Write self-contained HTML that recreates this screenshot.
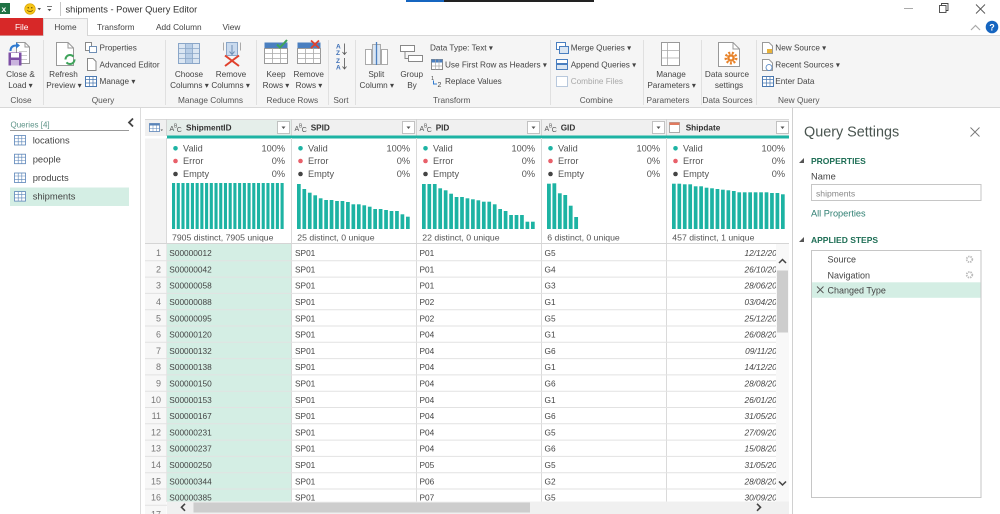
<!DOCTYPE html>
<html><head><meta charset="utf-8"><style>
html,body{margin:0;padding:0;width:1000px;height:514px;overflow:hidden;background:#fff}
svg{display:block}
</style></head><body>
<svg width="1000" height="514" viewBox="0 0 1000 514" xmlns="http://www.w3.org/2000/svg" font-family="'Liberation Sans', Arial, sans-serif">
<defs>
<clipPath id="dclip"><rect x="666" y="244" width="110" height="258"/></clipPath>
</defs>
<rect width="1000" height="514" fill="#fff"/>

<!-- ===== Title bar ===== -->
<rect x="0" y="3" width="10" height="11" fill="#1f7244"/>
<text x="1.5" y="12" font-size="8.5" font-weight="bold" fill="#fff">x</text>
<circle cx="30" cy="9" r="5.3" fill="#f5c518" stroke="#d9a300" stroke-width="0.6"/>
<circle cx="28.2" cy="7.8" r="0.7" fill="#5a3d00"/><circle cx="31.8" cy="7.8" r="0.7" fill="#5a3d00"/>
<path d="M27.3 10.2 Q30 13 32.7 10.2" stroke="#5a3d00" stroke-width="0.7" fill="none"/>
<path d="M37.5 8 L41 8 L39.25 10.2Z" fill="#555"/>
<line x1="47" y1="6.5" x2="52" y2="6.5" stroke="#555" stroke-width="0.8"/>
<path d="M47.5 9 L51.5 9 L49.5 11.3Z" fill="#555"/>
<line x1="60.5" y1="2" x2="60.5" y2="16" stroke="#c8c8c8"/>
<text x="65.5" y="12.3" font-size="9.3" fill="#333">shipments - Power Query Editor</text>
<rect x="406" y="0" width="38" height="2" fill="#1565c0"/>
<rect x="444" y="0" width="150" height="2" fill="#222"/>
<line x1="904" y1="8.5" x2="913" y2="8.5" stroke="#aaa"/>
<rect x="939.5" y="5.5" width="6.5" height="7" fill="none" stroke="#444" stroke-width="0.9"/>
<path d="M941.5 5.5 V3.5 H948 V10.5 H946" fill="none" stroke="#444" stroke-width="0.9"/>
<path d="M976 4.5 L985 13.5 M985 4.5 L976 13.5" stroke="#555" stroke-width="0.9"/>
<polyline points="971,30 975.5,25.5 980,30" fill="none" stroke="#aaa" stroke-width="1.2"/>
<circle cx="992" cy="27" r="6.3" fill="#1565c0"/>
<text x="992" y="30.5" font-size="9" font-weight="bold" fill="#fff" text-anchor="middle">?</text>

<!-- ===== Tabs ===== -->
<rect x="0" y="35.5" width="1000" height="72" fill="#f5f5f5"/>
<line x1="0" y1="35.5" x2="43.5" y2="35.5" stroke="#d8d8d8"/>
<line x1="87.5" y1="35.5" x2="1000" y2="35.5" stroke="#d8d8d8"/>
<line x1="0" y1="107.5" x2="1000" y2="107.5" stroke="#d8d8d8"/>
<rect x="0" y="18" width="43.5" height="17.5" fill="#d72828"/>
<text x="21.7" y="29.8" font-size="8.4" fill="#fff" text-anchor="middle">File</text>
<path d="M43.5 36 V18.5 H87.5 V36" fill="#f5f5f5" stroke="#d5d5d5"/>
<rect x="44" y="35" width="43" height="2" fill="#f5f5f5"/>
<g font-size="8.3" fill="#444">
<text x="65.5" y="29.8" text-anchor="middle">Home</text>
<text x="97" y="29.8">Transform</text>
<text x="156" y="29.8">Add Column</text>
<text x="222.5" y="29.8">View</text>
</g>

<!-- ===== Ribbon separators ===== -->
<g stroke="#e0e0e0">
<line x1="43.5" y1="40" x2="43.5" y2="105"/>
<line x1="165.5" y1="40" x2="165.5" y2="105"/>
<line x1="256.5" y1="40" x2="256.5" y2="105"/>
<line x1="328.5" y1="40" x2="328.5" y2="105"/>
<line x1="355.5" y1="40" x2="355.5" y2="105"/>
<line x1="550.5" y1="40" x2="550.5" y2="105"/>
<line x1="643.5" y1="40" x2="643.5" y2="105"/>
<line x1="701.5" y1="40" x2="701.5" y2="105"/>
<line x1="756.5" y1="40" x2="756.5" y2="105"/>
</g>

<!-- ===== Ribbon icons ===== -->
<!-- Close & Load -->
<path d="M16.5 42.5 H25 L29.5 47 V63.5 H16.5Z" fill="#fff" stroke="#999"/>
<path d="M25 42.5 V47 H29.5" fill="none" stroke="#999"/>
<path d="M19 51.5 H27 M19 55.5 H27 M19 59.5 H27" stroke="#ccc"/>
<path d="M10.5 51 Q10.5 45.5 16.5 45.5" fill="none" stroke="#2f7ad0" stroke-width="2"/>
<path d="M16 42.3 L20 45.5 L16 48.7Z" fill="#2f7ad0"/>
<rect x="8.5" y="52.5" width="13" height="13" fill="#7d4fa5"/>
<rect x="11" y="53" width="8" height="4.5" fill="#fff"/>
<rect x="11" y="60" width="8" height="5.5" fill="#c9b3dd"/>
<!-- Refresh -->
<path d="M56.5 42.5 H68 L73.5 48 V65.5 H56.5Z" fill="#fff" stroke="#999"/>
<path d="M68 42.5 V48 H73.5" fill="none" stroke="#999"/>
<circle cx="70" cy="59.5" r="4.5" fill="none" stroke="#3ea35a" stroke-width="2" stroke-dasharray="11 3"/>
<!-- Properties / Advanced / Manage -->
<rect x="85.5" y="42.5" width="6" height="8" fill="#fff" stroke="#888"/>
<rect x="89.5" y="46.5" width="7" height="6" fill="#fff" stroke="#6f8fb5"/>
<path d="M87.5 58.5 H93 L96 61.5 V70.5 H87.5Z" fill="#fff" stroke="#888"/>
<rect x="85.5" y="76.5" width="11" height="10" fill="#fff" stroke="#4a78b0"/>
<path d="M85.5 79.5 H96.5 M85.5 83 H96.5 M89.5 76.5 V86.5 M93 76.5 V86.5" stroke="#4a78b0" stroke-width="0.7"/>
<!-- Choose Columns -->
<rect x="178.5" y="43.5" width="21" height="20" fill="#dbe6f2" stroke="#8aa6c8"/>
<rect x="185.5" y="44" width="7" height="19" fill="#b7cde6"/>
<path d="M178.5 48.5 H199.5 M178.5 53.5 H199.5 M178.5 58.5 H199.5 M185.5 43.5 V63.5 M192.5 43.5 V63.5" stroke="#8aa6c8" stroke-width="0.8"/>
<!-- Remove Columns -->
<rect x="226.5" y="42.5" width="11" height="13" fill="#c9daee" stroke="#8aa6c8"/>
<path d="M223.5 42.5 V50.5 M240.5 42.5 V50.5" stroke="#aaa"/>
<path d="M232 45 V54 M229.5 51.5 L232 54.5 L234.5 51.5" stroke="#6f8fb5" fill="none"/>
<path d="M225 55.5 L239 66 M239 55.5 L225 66" stroke="#e0412d" stroke-width="2"/>
<!-- Keep Rows -->
<rect x="264.5" y="42.5" width="23" height="6" fill="#4a7fc0"/>
<rect x="264.5" y="48.5" width="23" height="15" fill="#fff" stroke="#999"/>
<path d="M264.5 53.5 H287.5 M264.5 58.5 H287.5 M272.5 48.5 V63.5 M280.5 48.5 V63.5" stroke="#aaa" stroke-width="0.8"/>
<path d="M277 44.5 L280 47.5 L287 40" stroke="#3ea35a" stroke-width="2" fill="none"/>
<!-- Remove Rows -->
<rect x="297.5" y="42.5" width="23" height="6" fill="#4a7fc0"/>
<rect x="297.5" y="48.5" width="23" height="15" fill="#fff" stroke="#999"/>
<path d="M297.5 53.5 H320.5 M297.5 58.5 H320.5 M305.5 48.5 V63.5 M313.5 48.5 V63.5" stroke="#aaa" stroke-width="0.8"/>
<path d="M311 40.5 L319 48 M319 40.5 L311 48" stroke="#e0412d" stroke-width="1.8"/>
<!-- Sort -->
<g font-size="6.5" fill="#3b6db5" font-weight="bold">
<text x="336" y="48.5">A</text><text x="336" y="55">Z</text>
<text x="336" y="63">Z</text><text x="336" y="69.5">A</text>
</g>
<path d="M344.5 43.5 V54 M342.5 52 L344.5 54.5 L346.5 52 M344.5 58 V68.5 M342.5 66.5 L344.5 69 L346.5 66.5" stroke="#555" fill="none" stroke-width="0.8"/>
<!-- Split Column -->
<rect x="365.5" y="49.5" width="6" height="15" fill="#fff" stroke="#aaa"/>
<rect x="381.5" y="49.5" width="6" height="15" fill="#fff" stroke="#aaa"/>
<rect x="372.5" y="44.5" width="8" height="20" fill="#dbe6f2" stroke="#aaa"/>
<line x1="376.5" y1="42" x2="376.5" y2="65" stroke="#4a7fc0" stroke-width="1.3"/>
<!-- Group By -->
<rect x="400.5" y="45.5" width="14" height="6" fill="#fff" stroke="#888"/>
<rect x="408.5" y="55.5" width="14" height="6" fill="#fff" stroke="#888"/>
<path d="M405 51.5 V58.5 H408.5" stroke="#888" fill="none"/>
<!-- Use First Row / Replace -->
<rect x="431.5" y="59.5" width="11" height="10" fill="#fff" stroke="#888"/>
<rect x="431.5" y="59.5" width="11" height="3" fill="#4a7fc0"/>
<path d="M431.5 66 H442.5 M435.5 59.5 V69.5 M439 59.5 V69.5" stroke="#aaa" stroke-width="0.7"/>
<text x="431" y="80" font-size="5.5" fill="#444">1</text>
<path d="M433.5 80.5 V84 H437" stroke="#2f7ad0" fill="none"/>
<text x="437.5" y="87" font-size="7" fill="#444">2</text>
<!-- Merge/Append/Combine -->
<rect x="556.5" y="42.5" width="9" height="7" fill="#fff" stroke="#4a7fc0"/>
<rect x="559.5" y="46.5" width="9" height="7" fill="#dbe6f2" stroke="#4a7fc0"/>
<rect x="556.5" y="59.5" width="11" height="4" fill="#fff" stroke="#4a7fc0"/>
<rect x="556.5" y="64.5" width="11" height="5" fill="#dbe6f2" stroke="#4a7fc0"/>
<rect x="556.5" y="76.5" width="11" height="10" fill="#fff" stroke="#b8c8dc"/>
<!-- Manage Parameters -->
<rect x="661.5" y="42.5" width="18" height="23" fill="#fff" stroke="#999"/>
<path d="M661.5 50.5 H679.5 M661.5 58 H679.5 M667.5 42.5 V65.5" stroke="#aaa" stroke-width="0.8"/>
<!-- Data source settings -->
<path d="M718.5 42.5 H733 L739.5 49 V66.5 H718.5Z" fill="#fff" stroke="#999"/>
<path d="M733 42.5 V49 H739.5" fill="none" stroke="#999"/>
<circle cx="731" cy="58" r="5.2" fill="none" stroke="#e8832a" stroke-width="2.6" stroke-dasharray="2 1.6"/>
<circle cx="731" cy="58" r="3.8" fill="#e8832a"/>
<circle cx="731" cy="58" r="1.4" fill="#fff"/>
<!-- New query icons -->
<path d="M762.5 42.5 H769 L772.5 46 V53.5 H762.5Z" fill="#fff" stroke="#999"/>
<rect x="767" y="49" width="5" height="4" fill="#e8b23a"/>
<path d="M762.5 59.5 H769 L772.5 63 V70.5 H762.5Z" fill="#fff" stroke="#999"/>
<circle cx="769" cy="67.5" r="3" fill="#fff" stroke="#4a7fc0" stroke-width="0.8"/>
<rect x="762.5" y="76.5" width="11" height="10" fill="#fff" stroke="#4a78b0"/>
<path d="M762.5 79.5 H773.5 M762.5 83 H773.5 M766.5 76.5 V86.5 M770 76.5 V86.5" stroke="#4a78b0" stroke-width="0.7"/>

<!-- ===== Ribbon text ===== -->
<g font-size="8.2" fill="#444">
<text x="20.5" y="77" text-anchor="middle">Close &amp;</text>
<text x="20.5" y="88" text-anchor="middle">Load ▾</text>
<text x="63.5" y="77" text-anchor="middle">Refresh</text>
<text x="64" y="88" text-anchor="middle">Preview ▾</text>
<text x="99.5" y="50.5">Properties</text>
<text x="99.5" y="67.3">Advanced Editor</text>
<text x="99.5" y="84.2">Manage ▾</text>
<text x="189" y="77" text-anchor="middle">Choose</text>
<text x="189.5" y="88" text-anchor="middle">Columns ▾</text>
<text x="231" y="77" text-anchor="middle">Remove</text>
<text x="230.7" y="88" text-anchor="middle">Columns ▾</text>
<text x="276" y="77" text-anchor="middle">Keep</text>
<text x="276" y="88" text-anchor="middle">Rows ▾</text>
<text x="308.7" y="77" text-anchor="middle">Remove</text>
<text x="309" y="88" text-anchor="middle">Rows ▾</text>
<text x="376.3" y="77" text-anchor="middle">Split</text>
<text x="376.8" y="88" text-anchor="middle">Column ▾</text>
<text x="411.7" y="77" text-anchor="middle">Group</text>
<text x="412" y="88" text-anchor="middle">By</text>
<text x="430" y="50.5">Data Type: Text ▾</text>
<text x="445" y="67.3">Use First Row as Headers ▾</text>
<text x="445" y="84.2">Replace Values</text>
<text x="570.7" y="50.5">Merge Queries ▾</text>
<text x="570.7" y="67.3">Append Queries ▾</text>
<text x="570.7" y="84.2" fill="#a8a8a8">Combine Files</text>
<text x="671" y="77" text-anchor="middle">Manage</text>
<text x="671.7" y="88" text-anchor="middle">Parameters ▾</text>
<text x="727" y="77" text-anchor="middle">Data source</text>
<text x="729" y="88" text-anchor="middle">settings</text>
<text x="775.3" y="50.5">New Source ▾</text>
<text x="775.3" y="67.3">Recent Sources ▾</text>
<text x="775.3" y="84.2">Enter Data</text>
</g>
<g font-size="8.3" fill="#555" text-anchor="middle">
<text x="21" y="103">Close</text>
<text x="103" y="103">Query</text>
<text x="210.5" y="103">Manage Columns</text>
<text x="292.3" y="103">Reduce Rows</text>
<text x="341" y="103">Sort</text>
<text x="451.7" y="103">Transform</text>
<text x="596.3" y="103">Combine</text>
<text x="668" y="103">Parameters</text>
<text x="727.5" y="103">Data Sources</text>
<text x="798.8" y="103">New Query</text>
</g>

<!-- ===== Left pane ===== -->
<line x1="140.5" y1="108" x2="140.5" y2="514" stroke="#dcdcdc"/>
<text x="10.5" y="127.3" font-size="8" fill="#5e9488">Queries [4]</text>
<line x1="10" y1="130.5" x2="129" y2="130.5" stroke="#999"/>
<polyline points="133,118.5 129,122.5 133,126.5" fill="none" stroke="#444" stroke-width="1.8"/>
<rect x="10" y="187.5" width="119" height="18.5" fill="#d4eee4"/>
<g fill="#fff" stroke="#5a84b8" stroke-width="0.8">
<rect x="14.5" y="135.5" width="11" height="9.5"/>
<rect x="14.5" y="154.2" width="11" height="9.5"/>
<rect x="14.5" y="173" width="11" height="9.5"/>
<rect x="14.5" y="191.6" width="11" height="9.5"/>
</g>
<g stroke="#5a84b8" stroke-width="0.6">
<path d="M14.5 138.5 H25.5 M14.5 141.8 H25.5 M18.2 135.5 V145 M21.8 135.5 V145"/>
<path d="M14.5 157.2 H25.5 M14.5 160.5 H25.5 M18.2 154.2 V163.7 M21.8 154.2 V163.7"/>
<path d="M14.5 176 H25.5 M14.5 179.3 H25.5 M18.2 173 V182.5 M21.8 173 V182.5"/>
<path d="M14.5 194.6 H25.5 M14.5 197.9 H25.5 M18.2 191.6 V201.1 M21.8 191.6 V201.1"/>
</g>
<g font-size="9.4" fill="#444">
<text x="32.7" y="143.6">locations</text>
<text x="32.7" y="162.3">people</text>
<text x="32.7" y="181">products</text>
<text x="32.7" y="199.6">shipments</text>
</g>

<!-- ===== Grid header ===== -->
<rect x="145" y="119" width="644" height="17" fill="#f0f0f0"/>
<rect x="167" y="119" width="124" height="17" fill="#e5eeea"/>
<line x1="145" y1="119.5" x2="789" y2="119.5" stroke="#d9d9d9"/>
<g stroke="#d3d3d3">
<line x1="166.5" y1="119" x2="166.5" y2="136"/>
<line x1="291.5" y1="119" x2="291.5" y2="136"/>
<line x1="416.5" y1="119" x2="416.5" y2="136"/>
<line x1="541.5" y1="119" x2="541.5" y2="136"/>
<line x1="666.5" y1="119" x2="666.5" y2="136"/>
</g>
<rect x="167" y="135.5" width="622" height="3" fill="#1db3a3"/>
<!-- corner icon -->
<rect x="149.5" y="123.5" width="10" height="8" fill="#fff" stroke="#5a84b8" stroke-width="0.8"/>
<rect x="149.5" y="123.5" width="10" height="2" fill="#5a84b8"/>
<path d="M149.5 128.5 H159.5 M153 123.5 V131.5 M156.3 123.5 V131.5" stroke="#5a84b8" stroke-width="0.5"/>
<path d="M160.5 129.5 L163 129.5 L161.75 131Z" fill="#555"/>
<!-- ABC icons -->
<g fill="#555">
<text x="169.5" y="131" font-size="7">A</text><text x="174" y="127.5" font-size="5">B</text><text x="176.8" y="132" font-size="7">C</text>
<text x="294.5" y="131" font-size="7">A</text><text x="299" y="127.5" font-size="5">B</text><text x="301.8" y="132" font-size="7">C</text>
<text x="419.5" y="131" font-size="7">A</text><text x="424" y="127.5" font-size="5">B</text><text x="426.8" y="132" font-size="7">C</text>
<text x="544.5" y="131" font-size="7">A</text><text x="549" y="127.5" font-size="5">B</text><text x="551.8" y="132" font-size="7">C</text>
</g>
<rect x="669.5" y="122.5" width="10" height="10" fill="#fff" stroke="#999" stroke-width="0.8"/>
<rect x="669.5" y="122.5" width="10" height="2.5" fill="#e07a5f"/>
<g font-size="8.2" font-weight="bold" fill="#333">
<text x="186" y="130.7">ShipmentID</text>
<text x="310.7" y="130.7">SPID</text>
<text x="435.7" y="130.7">PID</text>
<text x="560.7" y="130.7">GID</text>
<text x="685.7" y="130.7">Shipdate</text>
</g>
<g fill="#fff" stroke="#b5b5b5" stroke-width="0.8">
<rect x="277.5" y="121.5" width="12" height="12"/>
<rect x="402.5" y="121.5" width="12" height="12"/>
<rect x="527.5" y="121.5" width="12" height="12"/>
<rect x="652.5" y="121.5" width="12" height="12"/>
<rect x="776.5" y="121.5" width="12" height="12"/>
</g>
<g fill="#555">
<path d="M281.5 126.5 H285.5 L283.5 129Z"/>
<path d="M406.5 126.5 H410.5 L408.5 129Z"/>
<path d="M531.5 126.5 H535.5 L533.5 129Z"/>
<path d="M656.5 126.5 H660.5 L658.5 129Z"/>
<path d="M780.5 126.5 H784.5 L782.5 129Z"/>
</g>

<!-- ===== Profile area ===== -->
<rect x="145" y="138.5" width="22" height="105.5" fill="#f3f3f3"/>
<g stroke="#dadada">
<line x1="166.5" y1="138" x2="166.5" y2="502"/>
<line x1="291.5" y1="138" x2="291.5" y2="502"/>
<line x1="416.5" y1="138" x2="416.5" y2="502"/>
<line x1="541.5" y1="138" x2="541.5" y2="502"/>
<line x1="666.5" y1="138" x2="666.5" y2="502"/>
</g>
<line x1="145" y1="243.5" x2="789" y2="243.5" stroke="#d5d5d5"/>
<g font-size="9.2" fill="#555">
<text x="183" y="151.5">Valid</text><text x="183" y="164.2">Error</text><text x="183" y="177.2">Empty</text>
<text x="308" y="151.5">Valid</text><text x="308" y="164.2">Error</text><text x="308" y="177.2">Empty</text>
<text x="433" y="151.5">Valid</text><text x="433" y="164.2">Error</text><text x="433" y="177.2">Empty</text>
<text x="558" y="151.5">Valid</text><text x="558" y="164.2">Error</text><text x="558" y="177.2">Empty</text>
<text x="683" y="151.5">Valid</text><text x="683" y="164.2">Error</text><text x="683" y="177.2">Empty</text>
</g>
<g font-size="9.2" fill="#555" text-anchor="end">
<text x="285" y="151.5">100%</text><text x="285" y="164.2">0%</text><text x="285" y="177.2">0%</text>
<text x="410" y="151.5">100%</text><text x="410" y="164.2">0%</text><text x="410" y="177.2">0%</text>
<text x="535" y="151.5">100%</text><text x="535" y="164.2">0%</text><text x="535" y="177.2">0%</text>
<text x="660" y="151.5">100%</text><text x="660" y="164.2">0%</text><text x="660" y="177.2">0%</text>
<text x="785" y="151.5">100%</text><text x="785" y="164.2">0%</text><text x="785" y="177.2">0%</text>
</g>
<g>
<circle cx="175.5" cy="148.3" r="2.3" fill="#1db3a3"/><circle cx="175.5" cy="161" r="2.3" fill="#e8606a"/><circle cx="175.5" cy="174" r="2.3" fill="#444"/>
<circle cx="300.5" cy="148.3" r="2.3" fill="#1db3a3"/><circle cx="300.5" cy="161" r="2.3" fill="#e8606a"/><circle cx="300.5" cy="174" r="2.3" fill="#444"/>
<circle cx="425.5" cy="148.3" r="2.3" fill="#1db3a3"/><circle cx="425.5" cy="161" r="2.3" fill="#e8606a"/><circle cx="425.5" cy="174" r="2.3" fill="#444"/>
<circle cx="550.5" cy="148.3" r="2.3" fill="#1db3a3"/><circle cx="550.5" cy="161" r="2.3" fill="#e8606a"/><circle cx="550.5" cy="174" r="2.3" fill="#444"/>
<circle cx="675.5" cy="148.3" r="2.3" fill="#1db3a3"/><circle cx="675.5" cy="161" r="2.3" fill="#e8606a"/><circle cx="675.5" cy="174" r="2.3" fill="#444"/>
</g>
<!-- bars -->
<g fill="#1db3a3">
<rect x="172" y="183" width="3.1" height="46"/><rect x="176.72" y="183" width="3.1" height="46"/><rect x="181.44" y="183" width="3.1" height="46"/><rect x="186.16" y="183" width="3.1" height="46"/><rect x="190.88" y="183" width="3.1" height="46"/><rect x="195.6" y="183" width="3.1" height="46"/><rect x="200.32" y="183" width="3.1" height="46"/><rect x="205.04" y="183" width="3.1" height="46"/><rect x="209.76" y="183" width="3.1" height="46"/><rect x="214.48" y="183" width="3.1" height="46"/><rect x="219.2" y="183" width="3.1" height="46"/><rect x="223.92" y="183" width="3.1" height="46"/><rect x="228.64" y="183" width="3.1" height="46"/><rect x="233.36" y="183" width="3.1" height="46"/><rect x="238.08" y="183" width="3.1" height="46"/><rect x="242.8" y="183" width="3.1" height="46"/><rect x="247.52" y="183" width="3.1" height="46"/><rect x="252.24" y="183" width="3.1" height="46"/><rect x="256.96" y="183" width="3.1" height="46"/><rect x="261.68" y="183" width="3.1" height="46"/><rect x="266.4" y="183" width="3.1" height="46"/><rect x="271.12" y="183" width="3.1" height="46"/><rect x="275.84" y="183" width="3.1" height="46"/><rect x="280.56" y="183" width="3.1" height="46"/>

<rect x="297" y="184" width="3.7" height="45"/><rect x="302.45" y="189" width="3.7" height="40"/><rect x="307.9" y="192.7" width="3.7" height="36.3"/><rect x="313.35" y="195.3" width="3.7" height="33.7"/><rect x="318.8" y="198.3" width="3.7" height="30.7"/><rect x="324.25" y="200" width="3.7" height="29"/><rect x="329.7" y="200" width="3.7" height="29"/><rect x="335.15" y="201" width="3.7" height="28"/><rect x="340.6" y="201" width="3.7" height="28"/><rect x="346.05" y="202" width="3.7" height="27"/><rect x="351.5" y="204.3" width="3.7" height="24.7"/><rect x="356.95" y="204.3" width="3.7" height="24.7"/><rect x="362.4" y="205.3" width="3.7" height="23.7"/><rect x="367.85" y="206.7" width="3.7" height="22.3"/><rect x="373.3" y="209" width="3.7" height="20"/><rect x="378.75" y="209" width="3.7" height="20"/><rect x="384.2" y="210" width="3.7" height="19"/><rect x="389.65" y="211" width="3.7" height="18"/><rect x="395.1" y="211" width="3.7" height="18"/><rect x="400.55" y="214.3" width="3.7" height="14.7"/><rect x="406" y="216.7" width="3.7" height="12.3"/>

<rect x="422" y="184" width="3.7" height="45"/><rect x="427.45" y="184" width="3.7" height="45"/><rect x="432.9" y="184" width="3.7" height="45"/><rect x="438.35" y="188.3" width="3.7" height="40.7"/><rect x="443.8" y="190.3" width="3.7" height="38.7"/><rect x="449.25" y="193.7" width="3.7" height="35.3"/><rect x="454.7" y="197" width="3.7" height="32"/><rect x="460.15" y="197" width="3.7" height="32"/><rect x="465.6" y="198.3" width="3.7" height="30.7"/><rect x="471.05" y="199.3" width="3.7" height="29.7"/><rect x="476.5" y="200.3" width="3.7" height="28.7"/><rect x="481.95" y="201.7" width="3.7" height="27.3"/><rect x="487.4" y="201.7" width="3.7" height="27.3"/><rect x="492.85" y="204.3" width="3.7" height="24.7"/><rect x="498.3" y="209" width="3.7" height="20"/><rect x="503.75" y="211" width="3.7" height="18"/><rect x="509.2" y="215" width="3.7" height="14"/><rect x="514.65" y="215" width="3.7" height="14"/><rect x="520.1" y="215" width="3.7" height="14"/><rect x="525.55" y="221.7" width="3.7" height="7.3"/><rect x="531" y="221.7" width="3.7" height="7.3"/>

<rect x="547" y="183.7" width="3.8" height="45.3"/><rect x="552.45" y="183.3" width="3.8" height="45.7"/><rect x="557.9" y="193.3" width="3.8" height="35.7"/><rect x="563.35" y="195" width="3.8" height="34"/><rect x="568.8" y="205.7" width="3.8" height="23.3"/><rect x="574.25" y="217" width="3.8" height="12"/>

<rect x="672" y="183.7" width="3.7" height="45.3"/><rect x="677.45" y="183.7" width="3.7" height="45.3"/><rect x="682.9" y="184.3" width="3.7" height="44.7"/><rect x="688.35" y="184.3" width="3.7" height="44.7"/><rect x="693.8" y="186.3" width="3.7" height="42.7"/><rect x="699.25" y="186.3" width="3.7" height="42.7"/><rect x="704.7" y="187.7" width="3.7" height="41.3"/><rect x="710.15" y="188.3" width="3.7" height="40.7"/><rect x="715.6" y="189" width="3.7" height="40"/><rect x="721.05" y="189.7" width="3.7" height="39.3"/><rect x="726.5" y="190.3" width="3.7" height="38.7"/><rect x="731.95" y="191" width="3.7" height="38"/><rect x="737.4" y="192.3" width="3.7" height="36.7"/><rect x="742.85" y="192.3" width="3.7" height="36.7"/><rect x="748.3" y="192.3" width="3.7" height="36.7"/><rect x="753.75" y="192.3" width="3.7" height="36.7"/><rect x="759.2" y="192.3" width="3.7" height="36.7"/><rect x="764.65" y="192.3" width="3.7" height="36.7"/><rect x="770.1" y="193" width="3.7" height="36"/><rect x="775.55" y="193" width="3.7" height="36"/><rect x="781" y="194.3" width="3.7" height="34.7"/>
</g>
<g font-size="8.7" fill="#555">
<text x="172" y="240.3">7905 distinct, 7905 unique</text>
<text x="297.3" y="240.3">25 distinct, 0 unique</text>
<text x="422.3" y="240.3">22 distinct, 0 unique</text>
<text x="547.3" y="240.3">6 distinct, 0 unique</text>
<text x="672.3" y="240.3">457 distinct, 1 unique</text>
</g>

<!-- ===== Data rows ===== -->
<rect x="145" y="244" width="21.5" height="270" fill="#f7f7f7"/>
<rect x="167" y="244" width="124" height="258" fill="#d4eee4"/>
<g stroke="#e2e2e2">
<line x1="145" y1="260.8" x2="776" y2="260.8"/><line x1="145" y1="277.1" x2="776" y2="277.1"/><line x1="145" y1="293.4" x2="776" y2="293.4"/><line x1="145" y1="309.7" x2="776" y2="309.7"/><line x1="145" y1="326" x2="776" y2="326"/><line x1="145" y1="342.3" x2="776" y2="342.3"/><line x1="145" y1="358.6" x2="776" y2="358.6"/><line x1="145" y1="374.9" x2="776" y2="374.9"/><line x1="145" y1="391.2" x2="776" y2="391.2"/><line x1="145" y1="407.5" x2="776" y2="407.5"/><line x1="145" y1="423.8" x2="776" y2="423.8"/><line x1="145" y1="440.1" x2="776" y2="440.1"/><line x1="145" y1="456.4" x2="776" y2="456.4"/><line x1="145" y1="472.7" x2="776" y2="472.7"/><line x1="145" y1="489" x2="776" y2="489"/><line x1="145" y1="505.3" x2="776" y2="505.3"/>
</g>
<g font-size="9" fill="#777" text-anchor="end">
<text x="161" y="256.1">1</text><text x="161" y="272.4">2</text><text x="161" y="288.7">3</text><text x="161" y="305">4</text><text x="161" y="321.3">5</text><text x="161" y="337.6">6</text><text x="161" y="353.9">7</text><text x="161" y="370.2">8</text><text x="161" y="386.5">9</text><text x="161" y="402.8">10</text><text x="161" y="419.1">11</text><text x="161" y="435.4">12</text><text x="161" y="451.7">13</text><text x="161" y="468">14</text><text x="161" y="484.3">15</text><text x="161" y="500.6">16</text><text x="161" y="517.5">17</text>
</g>
<g font-size="8.3" fill="#444">
<text x="169.3" y="256.1">S00000012</text><text x="169.3" y="272.4">S00000042</text><text x="169.3" y="288.7">S00000058</text><text x="169.3" y="305">S00000088</text><text x="169.3" y="321.3">S00000095</text><text x="169.3" y="337.6">S00000120</text><text x="169.3" y="353.9">S00000132</text><text x="169.3" y="370.2">S00000138</text><text x="169.3" y="386.5">S00000150</text><text x="169.3" y="402.8">S00000153</text><text x="169.3" y="419.1">S00000167</text><text x="169.3" y="435.4">S00000231</text><text x="169.3" y="451.7">S00000237</text><text x="169.3" y="468">S00000250</text><text x="169.3" y="484.3">S00000344</text><text x="169.3" y="500.6">S00000385</text>

<text x="295" y="256.1">SP01</text><text x="295" y="272.4">SP01</text><text x="295" y="288.7">SP01</text><text x="295" y="305">SP01</text><text x="295" y="321.3">SP01</text><text x="295" y="337.6">SP01</text><text x="295" y="353.9">SP01</text><text x="295" y="370.2">SP01</text><text x="295" y="386.5">SP01</text><text x="295" y="402.8">SP01</text><text x="295" y="419.1">SP01</text><text x="295" y="435.4">SP01</text><text x="295" y="451.7">SP01</text><text x="295" y="468">SP01</text><text x="295" y="484.3">SP01</text><text x="295" y="500.6">SP01</text>

<text x="419.5" y="256.1">P01</text><text x="419.5" y="272.4">P01</text><text x="419.5" y="288.7">P01</text><text x="419.5" y="305">P02</text><text x="419.5" y="321.3">P02</text><text x="419.5" y="337.6">P04</text><text x="419.5" y="353.9">P04</text><text x="419.5" y="370.2">P04</text><text x="419.5" y="386.5">P04</text><text x="419.5" y="402.8">P04</text><text x="419.5" y="419.1">P04</text><text x="419.5" y="435.4">P04</text><text x="419.5" y="451.7">P04</text><text x="419.5" y="468">P05</text><text x="419.5" y="484.3">P06</text><text x="419.5" y="500.6">P07</text>

<text x="544.5" y="256.1">G5</text><text x="544.5" y="272.4">G4</text><text x="544.5" y="288.7">G3</text><text x="544.5" y="305">G1</text><text x="544.5" y="321.3">G5</text><text x="544.5" y="337.6">G1</text><text x="544.5" y="353.9">G6</text><text x="544.5" y="370.2">G1</text><text x="544.5" y="386.5">G6</text><text x="544.5" y="402.8">G1</text><text x="544.5" y="419.1">G6</text><text x="544.5" y="435.4">G5</text><text x="544.5" y="451.7">G6</text><text x="544.5" y="468">G5</text><text x="544.5" y="484.3">G2</text><text x="544.5" y="500.6">G5</text>
</g>
<g clip-path="url(#dclip)" font-size="8.3" fill="#444" font-style="italic" text-anchor="end">
<text x="786" y="256.1">12/12/2020</text><text x="786" y="272.4">26/10/2020</text><text x="786" y="288.7">28/06/2020</text><text x="786" y="305">03/04/2020</text><text x="786" y="321.3">25/12/2020</text><text x="786" y="337.6">26/08/2020</text><text x="786" y="353.9">09/11/2020</text><text x="786" y="370.2">14/12/2020</text><text x="786" y="386.5">28/08/2020</text><text x="786" y="402.8">26/01/2020</text><text x="786" y="419.1">31/05/2020</text><text x="786" y="435.4">27/09/2020</text><text x="786" y="451.7">15/08/2020</text><text x="786" y="468">31/05/2020</text><text x="786" y="484.3">28/08/2020</text><text x="786" y="500.6">30/09/2020</text>
</g>

<!-- ===== Scrollbars ===== -->
<rect x="776" y="244" width="13" height="257.5" fill="#f8f8f8"/>
<rect x="777" y="270.5" width="11" height="62" fill="#cdcdcd"/>
<polyline points="779,263 782.5,259.5 786,263" fill="none" stroke="#444" stroke-width="1.5"/>
<polyline points="779,481.5 782.5,485 786,481.5" fill="none" stroke="#444" stroke-width="1.5"/>
<rect x="167" y="501.5" width="622" height="12.5" fill="#f0f0f0"/>
<rect x="193.5" y="502.5" width="336.5" height="10" fill="#cdcdcd"/>
<polyline points="185,503.8 181.5,507.3 185,510.8" fill="none" stroke="#444" stroke-width="1.6"/>
<polyline points="757,503.8 760.5,507.3 757,510.8" fill="none" stroke="#444" stroke-width="1.6"/>

<!-- ===== Right pane ===== -->
<line x1="792.5" y1="108" x2="792.5" y2="514" stroke="#d0d0d0"/>
<text x="804" y="136.3" font-size="14.4" fill="#4a5550">Query Settings</text>
<path d="M970.5 127.5 L979.5 136.5 M979.5 127.5 L970.5 136.5" stroke="#777" stroke-width="0.9"/>
<path d="M804 158 V163 H799Z" fill="#555"/>
<text x="811" y="164.2" font-size="8.5" font-weight="bold" fill="#1e6e55">PROPERTIES</text>
<text x="811" y="179.5" font-size="9.3" fill="#444">Name</text>
<rect x="811.5" y="184.5" width="169.5" height="16" fill="#fff" stroke="#c6c6c6"/>
<text x="816" y="196.4" font-size="8.6" fill="#888">shipments</text>
<text x="811" y="216.5" font-size="9.2" fill="#2f7f72">All Properties</text>
<path d="M804 237 V242 H799Z" fill="#555"/>
<text x="811" y="243.2" font-size="8.5" font-weight="bold" fill="#1e6e55">APPLIED STEPS</text>
<rect x="811.5" y="250.5" width="169.5" height="247" fill="#fff" stroke="#c6c6c6"/>
<rect x="812" y="282.3" width="168.5" height="15.5" fill="#d4eee4"/>
<g font-size="9" fill="#444">
<text x="827.5" y="262.5">Source</text>
<text x="827.5" y="278.3">Navigation</text>
<text x="827.5" y="293.3">Changed Type</text>
</g>
<path d="M817 286.5 L823.5 293 M823.5 286.5 L817 293" stroke="#555" stroke-width="0.9"/>
<circle cx="969.5" cy="259.3" r="2.8" fill="none" stroke="#bbb" stroke-width="1.8" stroke-dasharray="1.4 0.9"/>
<circle cx="969.5" cy="274.8" r="2.8" fill="none" stroke="#bbb" stroke-width="1.8" stroke-dasharray="1.4 0.9"/>
</svg>
</body></html>
